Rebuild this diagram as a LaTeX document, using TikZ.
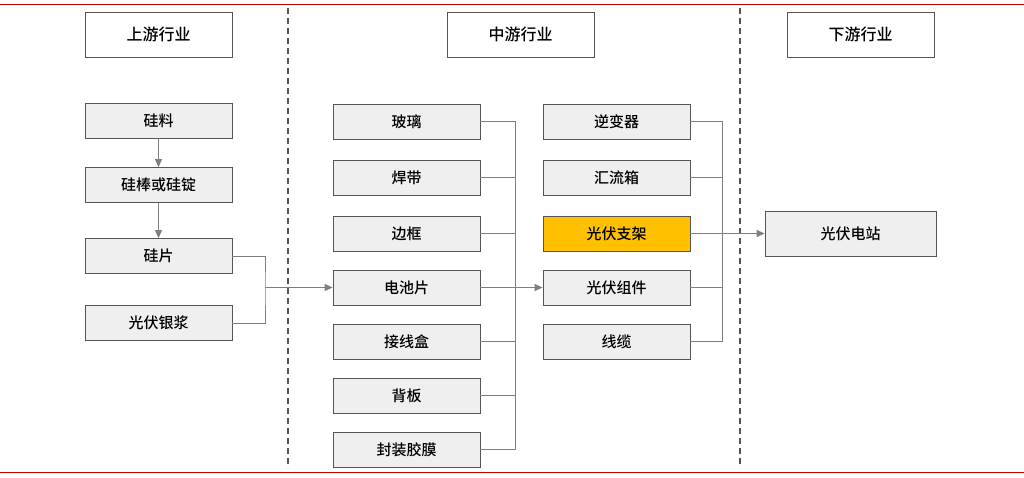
\documentclass[tikz,border=0pt]{standalone}
\usepackage{fontspec}
\setmainfont{Noto Sans CJK SC}[BoldFont={Noto Sans CJK SC Medium}]
\usetikzlibrary{arrows.meta}
\definecolor{bx}{HTML}{EFEFEF}
\definecolor{bd}{HTML}{555555}
\definecolor{ln}{HTML}{7F7F7F}
\definecolor{rd}{HTML}{C00000}
\definecolor{og}{HTML}{FFC000}
\begin{document}
\begin{tikzpicture}[x=1pt,y=-1pt,
 bb/.style={draw=bd,fill=bx,line width=0.8pt,minimum width=147pt,minimum height=35pt,inner sep=0pt,font=\fontsize{15}{17}\selectfont\bfseries},
 hd/.style={draw=bd,fill=white,line width=1pt,minimum width=147pt,minimum height=45pt,inner sep=0pt,font=\fontsize{16}{18}\selectfont\bfseries},
 cn/.style={draw=ln,line width=1pt},
 ar/.style={cn,-{Triangle[length=8pt,width=7pt]}}]
\useasboundingbox (0,0) rectangle (1024,477);
\fill[white] (0,0) rectangle (1024,477);
\draw[rd,line width=1pt] (0,4) -- (1024,4) (0,472) -- (1024,472);
\draw[bd,line width=1.5pt,dash pattern=on 6pt off 4pt] (288,8) -- (288,468) (740,8) -- (740,468);
\node[hd] (h1) at (158.5,34.5) {上游行业};
\node[hd] (h2) at (520.5,34.5) {中游行业};
\node[hd] (h3) at (860.5,34.5) {下游行业};
\node[bb] (a1) at (158.5,120.5) {硅料};
\node[bb] (a2) at (158.5,185) {硅棒或硅锭};
\node[bb] (a3) at (158.5,256) {硅片};
\node[bb] (a4) at (158.5,323) {光伏银浆};
\node[bb] (b1) at (406.5,121.5) {玻璃};
\node[bb] (b2) at (406.5,177.5) {焊带};
\node[bb] (b3) at (406.5,233.5) {边框};
\node[bb] (b4) at (406.5,287.5) {电池片};
\node[bb] (b5) at (406.5,341.5) {接线盒};
\node[bb] (b6) at (406.5,395.5) {背板};
\node[bb] (b7) at (406.5,449.5) {封装胶膜};
\node[bb] (c1) at (616.5,121.5) {逆变器};
\node[bb] (c2) at (616.5,177.5) {汇流箱};
\node[bb,fill=og] (c3) at (616.5,233.5) {光伏支架};
\node[bb] (c4) at (616.5,287.5) {光伏组件};
\node[bb] (c5) at (616.5,341.5) {线缆};
\node[bb,minimum width=171pt,minimum height=45pt] (d1) at (850.5,233.5) {光伏电站};
\draw[ar] (a1) -- (a2);
\draw[ar] (a2) -- (a3);
\coordinate (j1) at (265,287.5);
\draw[cn] (a3.east) -| (j1) |- (a4.east);
\draw[ar] (j1) -- (b4.west);
\coordinate (j2) at (515,287.5);
\foreach \n in {b1,b2,b3,b5,b6,b7} \draw[cn] (\n.east) -| (j2);
\draw[ar] (b4.east) -- (c4.west);
\coordinate (j3) at (722,233.5);
\foreach \n in {c1,c2,c4,c5} \draw[cn] (\n.east) -| (j3);
\draw[ar] (c3.east) -- (d1.west);
\end{tikzpicture}
\end{document}
